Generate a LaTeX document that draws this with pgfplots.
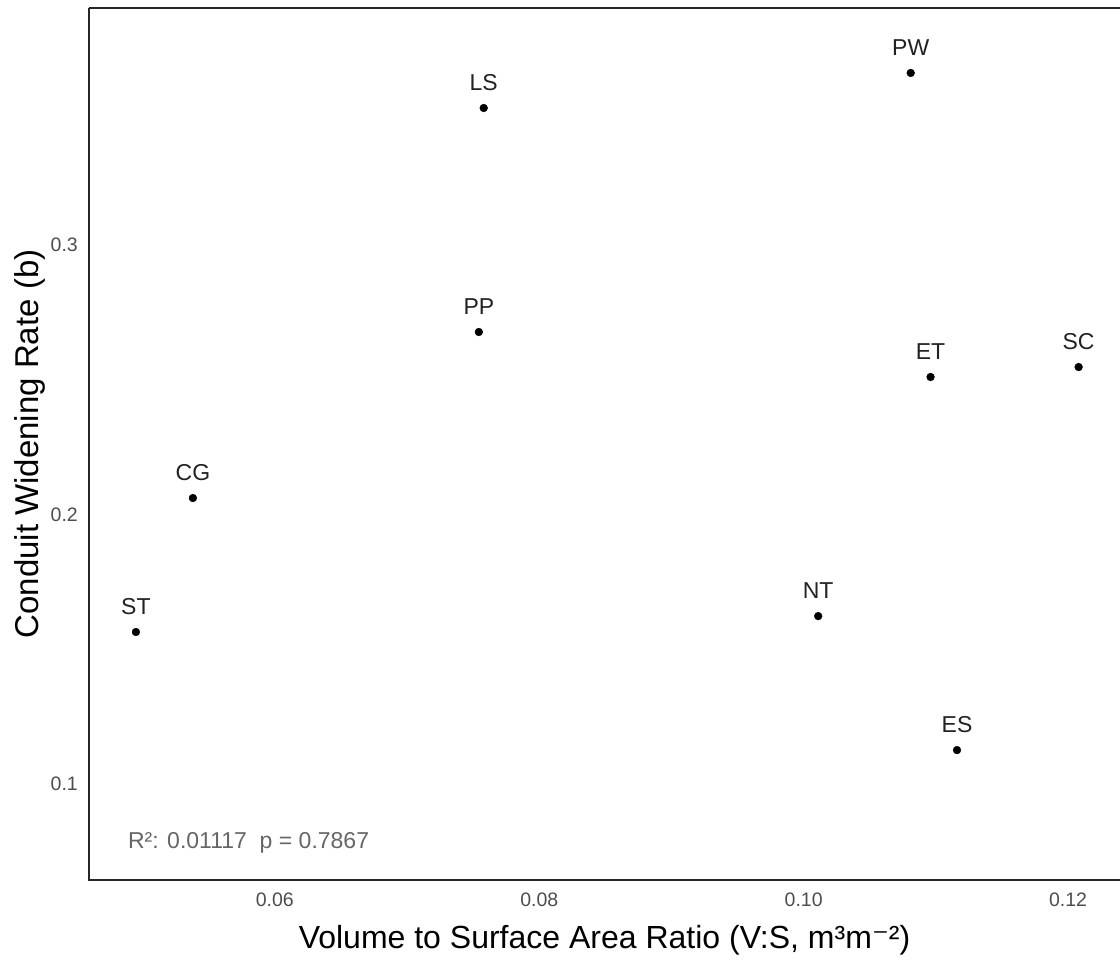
\documentclass[border=0pt]{standalone}
\usepackage{pgfplots}
\pgfplotsset{compat=1.18}
\usepackage{pgfplotstable}
\usepackage{fontspec}
\setmainfont{Liberation Sans}
\newfontfamily\dejavu{DejaVu Sans}
\definecolor{tickgray}{HTML}{4D4D4D}
\definecolor{annogray}{HTML}{666666}
\definecolor{lblgray}{HTML}{222222}
\pgfplotstableread{
x y label
0.04949 0.1564 ST
0.0538 0.2061 CG
0.07543 0.2677 PP
0.0758 0.3508 LS
0.1081 0.3638 PW
0.1096 0.2510 ET
0.1208 0.2547 SC
0.1011 0.1623 NT
0.1116 0.1126 ES
}\pts
\begin{document}
\begin{tikzpicture}
\begin{axis}[
  scale only axis,
  width=1031bp, height=872bp,
  xmin=0.04594, xmax=0.12393,
  ymin=0.0644, ymax=0.3879,
  axis line style={draw=none},
  major tick length=0pt,
  xtick={0.06,0.08,0.10,0.12},
  xticklabels={0.06,0.08,0.10,0.12},
  ytick={0.1,0.2,0.3},
  yticklabels={0.1,0.2,0.3},
  /pgf/number format/assume math mode=true,
  xticklabel style={font=\fontsize{19.5bp}{23bp}\selectfont, text=tickgray, anchor=north, inner sep=0pt, yshift=-13bp},
  yticklabel style={font=\fontsize{19.5bp}{23bp}\selectfont, text=tickgray, anchor=east, inner sep=0pt, xshift=-11bp},
  xlabel={Volume to Surface Area Ratio (V:S, m³m{\dejavu ⁻}²)},
  ylabel={Conduit Widening Rate (b)},
  xlabel style={font=\fontsize{32bp}{38bp}\selectfont, at={(axis description cs:0.5,-0.0688)}, anchor=center},
  ylabel style={font=\fontsize{33bp}{39bp}\selectfont, at={(axis description cs:-0.0572,0.5)}, anchor=center, rotate=0},
  clip=false,
]
\draw[black!85, line width=1.3bp] (rel axis cs:0,1) -- (rel axis cs:0,0) -- (rel axis cs:1,0);
\draw[black!85, line width=1.3bp] (rel axis cs:0,1) -- (rel axis cs:1,1);
\addplot[only marks, mark=*, mark size=3.9bp, black,
  nodes near coords, point meta=explicit symbolic,
  every node near coord/.append style={font=\fontsize{23bp}{27bp}\selectfont, text=lblgray, anchor=south, inner sep=0pt, yshift=17bp}]
  table[x=x, y=y, meta=label]{\pts};
\node[anchor=west, inner sep=0pt, text=annogray, font=\fontsize{23bp}{27bp}\selectfont] at (axis cs:0.04888,0.0781) {R²: 0.01117\ \ p = 0.7867};
\end{axis}
\pgfresetboundingbox
\path (-89bp,-81bp) rectangle (1031bp,880bp);
\end{tikzpicture}
\end{document}
